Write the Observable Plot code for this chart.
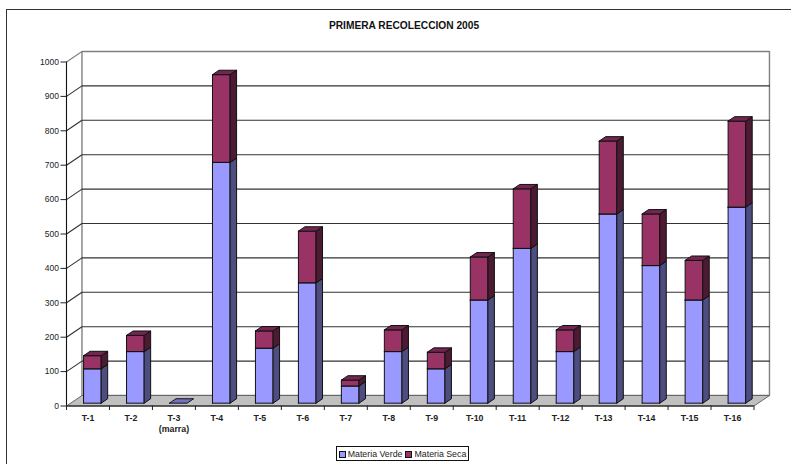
<!DOCTYPE html>
<html lang="es">
<head>
<meta charset="utf-8">
<title>Primera recolección 2005</title>
<script src="https://cdn.jsdelivr.net/npm/d3@7"></script>
<script src="https://cdn.jsdelivr.net/npm/@observablehq/plot@0.6"></script>
<style>
  html, body { margin: 0; background: #fff; }
  #chart { position: relative; width: 791px; height: 464px; overflow: hidden;
           font-family: "Liberation Sans", Arial, sans-serif; }
  #chart svg { display: block; position: absolute; left: 0; top: 0; background: transparent; }
  #frame { position: absolute; left: 6px; top: 9px; right: -4px; bottom: -4px; border: 1.5px solid #333; }
  #legend { position: absolute; left: 336px; top: 446px; width: 133px; height: 15px; box-sizing: border-box;
            border: 1px solid #111; background: #fff; display: flex; align-items: center; justify-content: center;
            gap: 3px; font-size: 8.8px; color: #222; white-space: nowrap; }
  #legend i { display: inline-block; width: 5px; height: 5px; border: 1px solid #111; margin-right: 2px;
              vertical-align: -1px; }
</style>
</head>
<body>
<div id="chart"><div id="frame"></div></div>
<script>
// Harvest figures per treatment
const categories = ["T-1", "T-2", "T-3\n(marra)", "T-4", "T-5", "T-6", "T-7", "T-8", "T-9", "T-10", "T-11", "T-12", "T-13", "T-14", "T-15", "T-16"];
const materiaVerde = [100, 150, 0, 700, 160, 350, 50, 150, 100, 300, 450, 150, 550, 400, 300, 570];
const materiaSeca = [38, 47, 0, 255, 50, 150, 17, 63, 48, 125, 173, 63, 212, 150, 115, 250];
const yTicks = [0, 100, 200, 300, 400, 500, 600, 700, 800, 900, 1000];

const titleText = "PRIMERA RECOLECCION 2005";
const seriesNames = ["Materia Verde", "Materia Seca"];
const blue = {front: "#9999ff", side: "#4d4d80", top: "#7272c0"};
const plum = {front: "#993366", side: "#4d1a33", top: "#732650"};

// Oblique projection: depth d in [0, 1] runs from the front edge to the back wall
const slantX = 0.36;    // category units at full depth
const slantY = 30.5;    // value units at full depth
const at = (c, v, d) => ({x: c + slantX * d, y: v + slantY * d});

const barLeft = 0.30, barRight = 0.71;  // within a category slot
const depthFront = 0.27, depthBack = 0.69;

const polygon = (id, fill, points) => [...points, points[0]].map((p) => ({...p, id, fill}));

// Front, side and top faces of one stacked segment
function block(i, v0, v1, colors) {
  const l = i + barLeft, r = i + barRight, id = `${i}-${v0}`;
  return [
    ...polygon(id + "f", colors.front, [at(l, v0, depthFront), at(r, v0, depthFront), at(r, v1, depthFront), at(l, v1, depthFront)]),
    ...polygon(id + "s", colors.side, [at(r, v0, depthFront), at(r, v0, depthBack), at(r, v1, depthBack), at(r, v1, depthFront)]),
    ...polygon(id + "t", colors.top, [at(l, v1, depthFront), at(r, v1, depthFront), at(r, v1, depthBack), at(l, v1, depthBack)])
  ];
}

const faces = categories.flatMap((_, i) => {
  const verde = materiaVerde[i], total = verde + materiaSeca[i];
  if (total === 0) {
    return polygon(`${i}-flat`, blue.top, [at(i + barLeft, 0, depthFront), at(i + barRight, 0, depthFront), at(i + barRight, 0, depthBack), at(i + barLeft, 0, depthBack)]);
  }
  return [...block(i, 0, verde, blue), ...block(i, verde, total, plum)];
});

const n = categories.length;
const floor = polygon("floor", "#c0c0c0", [at(0, 0, 0), at(n, 0, 0), at(n, 0, 1), at(0, 0, 1)]);
const backWall = polygon("wall", "none", [at(0, 0, 1), at(n, 0, 1), at(n, 1000, 1), at(0, 1000, 1)]);

// Each grid line runs up the left wall, then along the back wall
const grid = yTicks.filter((v) => v > 0 && v < 1000).flatMap((v) =>
  [at(0, v, 0), at(0, v, 1), at(n, v, 1)].map((p) => ({...p, id: v}))
);
const topSlant = [at(0, 1000, 0), at(0, 1000, 1)];

const chart = Plot.plot({
  width: 791,
  height: 464,
  marginLeft: 66,
  marginRight: 37.5,
  marginTop: 61.5,
  marginBottom: 58.5,
  x: {type: "linear", domain: [0, n]},
  y: {type: "linear", domain: [0, 1000]},
  color: {type: "identity"},
  style: {fontFamily: '"Liberation Sans", Arial, sans-serif', background: "transparent"},
  marks: [
    Plot.line(backWall, {x: "x", y: "y", stroke: "#808080", strokeWidth: 1.4, strokeLinejoin: "miter"}),
    Plot.line(grid, {x: "x", y: "y", z: "id", stroke: "#333", strokeWidth: 1.1, strokeLinejoin: "miter"}),
    Plot.line(topSlant, {x: "x", y: "y", stroke: "#808080", strokeWidth: 1.1}),
    Plot.line(floor, {x: "x", y: "y", z: "id", fill: "fill", stroke: "#666", strokeWidth: 1, strokeLinejoin: "miter"}),
    Plot.line(faces, {x: "x", y: "y", z: "id", fill: "fill", stroke: "#111", strokeWidth: 1, strokeLinejoin: "miter"}),
    Plot.ruleX([0], {y1: 0, y2: 1000, stroke: "#111", strokeWidth: 1.1}),
    Plot.ruleY([0], {x1: 0, x2: n, stroke: "#111", strokeWidth: 1.2}),
    Plot.axisY({ticks: yTicks, tickSize: 5.5, tickPadding: 2, fontSize: 8.5, stroke: "#222", fill: "#222", label: null, tickFormat: (d) => String(d)}),
    Plot.axisX({ticks: d3.range(0, n + 1), tickSize: 4.5, stroke: "#222", tickFormat: () => "", label: null}),
    Plot.axisX({ticks: d3.range(n).map((i) => i + 0.5), tickSize: 0, tickPadding: 7.5, fontSize: 8.8, fontWeight: "bold", fill: "#222",
      lineHeight: 1.25, label: null, tickFormat: (d) => categories[Math.floor(d)]}),
    Plot.text([titleText], {frameAnchor: "top-left", dx: 337.5, dy: -40, textAnchor: "middle", fontSize: 10.2, fontWeight: "bold", fill: "#111"})
  ]
});

const root = document.getElementById("chart");
root.append(chart);

// Series key under the plot
const legend = document.createElement("div");
legend.id = "legend";
[blue, plum].forEach((c, i) => {
  const item = document.createElement("span");
  const swatch = document.createElement("i");
  swatch.style.background = c.front;
  item.append(swatch, seriesNames[i]);
  legend.append(item);
});
root.append(legend);
</script>
</body>
</html>
